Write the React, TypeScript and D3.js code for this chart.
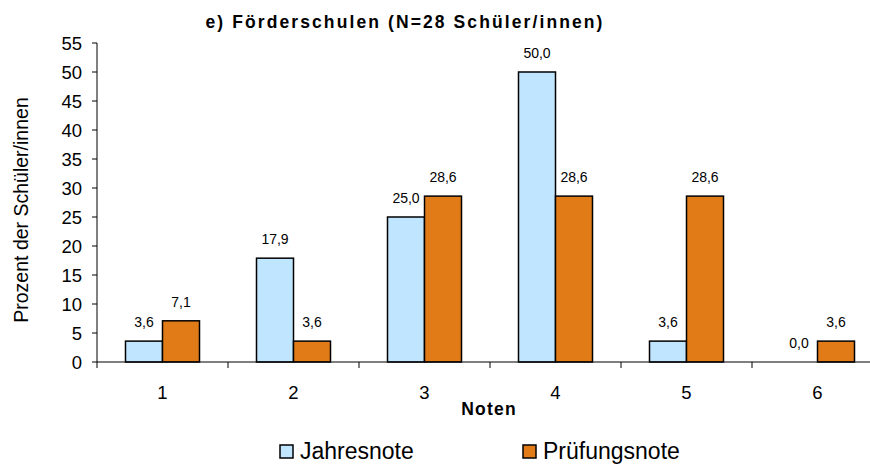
import React from 'react';
import * as d3 from 'd3';

const categories = ['1', '2', '3', '4', '5', '6'];
const jahresnote = [3.6, 17.9, 25.0, 50.0, 3.6, 0.0];
const pruefungsnote = [7.1, 3.6, 28.6, 28.6, 28.6, 3.6];
const seriesNames = ['Jahresnote', 'Prüfungsnote'];
const yTicks = d3.range(0, 56, 5);

const colors = ['#C0E6FF', '#E07B18'];
const font = '"Liberation Sans", Arial, sans-serif';

const App = () => {
  const width = 870;
  const height = 464;
  const left = 97;
  const top = 43;
  const bottom = 362;

  const x = d3.scaleBand().domain(categories).range([left, left + 131 * 6]).paddingInner(0).paddingOuter(0);
  const y = d3.scaleLinear().domain([0, 55]).range([bottom, top]);
  const barW = 37;

  const series = [jahresnote, pruefungsnote];

  return (
    <svg width={width} height={height} style={{ position: 'absolute', left: 0, top: 0, fontFamily: font }}>
      <rect width={width} height={height} fill="#fff" />
      <text x={405} y={28} textAnchor="middle" fontSize={17.5} fontWeight="bold" letterSpacing={2.1}>
        e) Förderschulen (N=28 Schüler/innen)
      </text>

      {/* y axis */}
      <line x1={left} x2={left} y1={top} y2={bottom} stroke="#000" />
      {yTicks.map(t => (
        <g key={t}>
          <line x1={left - 5} x2={left} y1={y(t)} y2={y(t)} stroke="#000" />
          <text x={left - 15} y={y(t) + 7} textAnchor="end" fontSize={18.5}>{t}</text>
        </g>
      ))}
      <text transform={`translate(28, 210) rotate(-90)`} textAnchor="middle" fontSize={19.5}>
        Prozent der Schüler/innen
      </text>

      {/* bars */}
      {categories.map((c, i) => {
        const cx = x(c)! + x.bandwidth() / 2;
        return (
          <g key={c}>
            {series.map((s, j) => {
              const bx = cx - barW + j * barW;
              const v = s[i];
              return (
                <g key={j}>
                  {v > 0 && (
                    <rect x={bx} y={y(v)} width={barW} height={bottom - y(v)} fill={colors[j]} stroke="#000" strokeWidth={1.5} />
                  )}
                  <text x={bx + barW / 2} y={y(v) - 14} textAnchor="middle" fontSize={14}>
                    {v.toFixed(1).replace('.', ',')}
                  </text>
                </g>
              );
            })}
          </g>
        );
      })}

      {/* x axis */}
      <line x1={left} x2={left + 131 * 6} y1={bottom} y2={bottom} stroke="#000" />
      {d3.range(0, 7).map(k => (
        <line key={k} x1={left + 131 * k} x2={left + 131 * k} y1={bottom} y2={bottom + 6} stroke="#000" />
      ))}
      {categories.map(c => (
        <text key={c} x={x(c)! + x.bandwidth() / 2} y={399} textAnchor="middle" fontSize={18.5}>{c}</text>
      ))}
      <text x={489} y={415} textAnchor="middle" fontSize={17.5} fontWeight="bold" letterSpacing={1.2}>Noten</text>

      {/* legend */}
      {seriesNames.map((name, j) => {
        const lx = [280, 523][j];
        return (
          <g key={name}>
            <rect x={lx} y={445} width={13} height={13} fill={colors[j]} stroke="#000" strokeWidth={1.5} />
            <text x={lx + 20} y={459} fontSize={23}>{name}</text>
          </g>
        );
      })}
    </svg>
  );
};

export default App;
